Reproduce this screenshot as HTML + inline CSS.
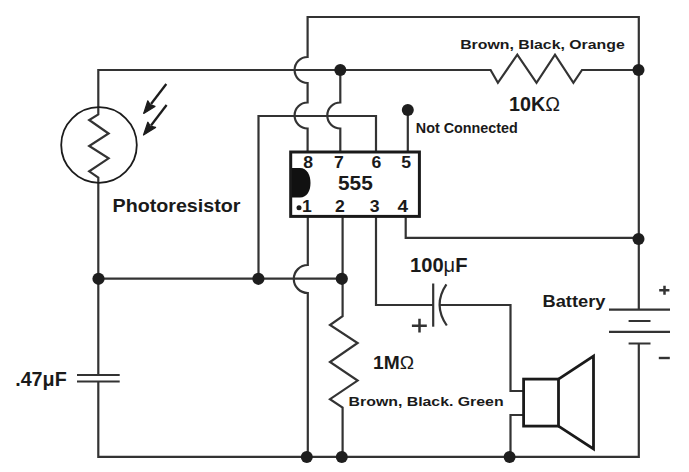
<!DOCTYPE html>
<html><head><meta charset="utf-8">
<style>
html,body{margin:0;padding:0;background:#fff;width:689px;height:472px;overflow:hidden}
svg{display:block}
text{font-family:"Liberation Sans",sans-serif;fill:#1a1a1a}
.w{fill:none;stroke:#333;stroke-width:2.2;stroke-linejoin:miter;stroke-linecap:butt}
.b{font-weight:bold}
</style></head>
<body>
<svg width="689" height="472" viewBox="0 0 689 472">
<rect width="689" height="472" fill="#fff"/>
<g class="w">
  <!-- pin 8 wire with hops -->
  <path d="M638.8 237.9 V17 H307.6 V57 A13 13 0 0 0 307.6 83 V102.5 A13 13 0 0 0 307.6 128.5 V151"/>
  <!-- horizontal y=70 with resistor -->
  <path d="M98.3 375 V177.5 L89.2 171.3 L108.6 158.3 L89.2 146 L108.6 133.5 L89.2 120 L98.3 114.5 V70 H490.6 L497.9 82.8 L517.3 54.7 L536.5 82.8 L555 54.7 L573.4 82.8 L582 70 H639"/>
  <!-- pin 7 -->
  <path d="M340.3 70 V102.5 A13 13 0 0 0 340.3 128.5 V151"/>
  <!-- y=116 loop to pin 6 -->
  <path d="M258.5 279 V116 H376 V151"/>
  <!-- pin 5 NC -->
  <path d="M407.8 110 V151"/>
  <!-- pin 1 -->
  <path d="M307.8 217 V265 A14 14 0 0 0 307.8 293 V456.8"/>
  <!-- pin 2 with resistor -->
  <path d="M342.6 217 V316.2 L330 325 L357.6 343 L330 362 L357.6 380.6 L330 399.2 L342.6 407.5 V456.8"/>
  <!-- pin 3 -->
  <path d="M376 217 V305 H433.3"/>
  <path d="M439.8 305 H510.5 V391 H523.6"/>
  <!-- pin 4 -->
  <path d="M405.7 217 V237.9 H638.8 V309.6"/>
  <!-- horizontal y=279 -->
  <path d="M98.3 278.7 H342.6"/>
  <!-- left vertical with photoresistor zigzag -->
  <path d="M98.3 381.5 V456.8 H638.8 V343.5"/>
  <!-- speaker lower wire -->
  <path d="M523.6 415 H510.5 V456.8"/>
  <!-- cap .47 -->
  <path d="M77 375 H119.7 M77 381.5 H119.7"/>
  <!-- cap 100uF -->
  <path d="M433.2 283.5 V326.7"/>
  <path d="M446.4 284.3 Q432.6 304.8 446.8 325.5"/>
  <!-- battery -->
  <path d="M609 309.6 H670 M628.6 321 H650.5 M609 331.8 H670 M628.6 343.5 H650.5"/>
  <!-- plus signs -->
  <path d="M411.9 325.7 H426.8 M419.5 318.8 V332.6" stroke-width="2.5"/>
  <path d="M659.2 290.3 H669.4 M664.5 285.8 V294.8" stroke-width="2.5"/>
  <path d="M658.8 358 H669.8" stroke-width="2.4"/>
</g>
<!-- photoresistor circle -->
<circle cx="99" cy="145" r="37.8" fill="none" stroke="#1c1c1c" stroke-width="1.8"/>
<!-- arrows -->
<g stroke="#1c1c1c" fill="#1c1c1c" stroke-linejoin="round">
  <path d="M166.3 84 L151 104" stroke-width="2.3" fill="none"/>
  <path d="M143.7 113.4 L147.8 100.8 L150.2 104.6 L155 106.4 Z" stroke-width="1.2"/>
  <path d="M166.6 105 L151 125.5" stroke-width="2.3" fill="none"/>
  <path d="M143.5 135 L147.8 122.2 L150.3 126 L155.6 127.4 Z" stroke-width="1.2"/>
</g>
<!-- IC -->
<rect x="290.7" y="152" width="128.7" height="64.4" fill="none" stroke="#1a1a1a" stroke-width="3"/>
<path d="M292 168 H300 C307 168 310.5 175 310.5 183 C310.5 191 307 197.5 300 197.5 H292 Z" fill="#111"/>
<circle cx="299" cy="207.8" r="2.5" fill="#1a1a1a"/>
<!-- speaker -->
<g fill="none" stroke="#1a1a1a" stroke-width="2.8">
  <rect x="523.6" y="379.1" width="34.9" height="47"/>
  <path d="M558.5 379.1 L593.5 356.2 V449 L558.5 426.1"/>
</g>
<!-- dots -->
<g fill="#1e1e1e">
  <circle cx="340.3" cy="70" r="6"/>
  <circle cx="638.5" cy="70" r="6"/>
  <circle cx="407.8" cy="110" r="6"/>
  <circle cx="258.4" cy="278.8" r="6.1"/>
  <circle cx="341.8" cy="278.8" r="6.1"/>
  <circle cx="98.5" cy="278.8" r="6.1"/>
  <circle cx="638.5" cy="239" r="6"/>
  <circle cx="306.8" cy="456.9" r="6"/>
  <circle cx="341.8" cy="456.9" r="6"/>
  <circle cx="509.6" cy="456.9" r="6"/>
</g>
<!-- texts -->
<text class="b" x="460.2" y="49.3" font-size="13" textLength="164.5" lengthAdjust="spacingAndGlyphs">Brown, Black, Orange</text>
<text x="509" y="111" font-size="19.5" textLength="51" lengthAdjust="spacingAndGlyphs"><tspan class="b">10K</tspan>Ω</text>
<text class="b" x="415.8" y="132.6" font-size="14" textLength="102" lengthAdjust="spacingAndGlyphs">Not Connected</text>
<text class="b" x="112.5" y="211.7" font-size="18" textLength="128" lengthAdjust="spacingAndGlyphs">Photoresistor</text>
<text class="b" x="338" y="190.2" font-size="19.8" textLength="34.8" lengthAdjust="spacingAndGlyphs">555</text>
<text class="b" x="303.2" y="167.9" font-size="16" textLength="9.8" lengthAdjust="spacingAndGlyphs">8</text>
<text class="b" x="334" y="167.9" font-size="16" textLength="9.8" lengthAdjust="spacingAndGlyphs">7</text>
<text class="b" x="371.4" y="167.9" font-size="16" textLength="9.8" lengthAdjust="spacingAndGlyphs">6</text>
<text class="b" x="401.2" y="167.9" font-size="16" textLength="9.8" lengthAdjust="spacingAndGlyphs">5</text>
<text class="b" x="302" y="211.6" font-size="16" textLength="9.8" lengthAdjust="spacingAndGlyphs">1</text>
<text class="b" x="335" y="211.6" font-size="16" textLength="9.8" lengthAdjust="spacingAndGlyphs">2</text>
<text class="b" x="369.8" y="211.6" font-size="16" textLength="9.8" lengthAdjust="spacingAndGlyphs">3</text>
<text class="b" x="397.4" y="211.6" font-size="16" textLength="10.6" lengthAdjust="spacingAndGlyphs">4</text>
<text class="b" x="15.2" y="386" font-size="19.5" textLength="51.5" lengthAdjust="spacingAndGlyphs">.47μF</text>
<text class="b" x="410" y="272.3" font-size="19.5" textLength="57.5" lengthAdjust="spacingAndGlyphs">100<tspan font-weight="normal">μ</tspan>F</text>
<text class="b" x="542.5" y="306.5" font-size="17" textLength="63" lengthAdjust="spacingAndGlyphs">Battery</text>
<text x="373" y="368.6" font-size="18" textLength="41" lengthAdjust="spacingAndGlyphs"><tspan class="b">1M</tspan>Ω</text>
<text class="b" x="348.6" y="405.6" font-size="13" textLength="155" lengthAdjust="spacingAndGlyphs">Brown, Black. Green</text>
</svg>
</body></html>
